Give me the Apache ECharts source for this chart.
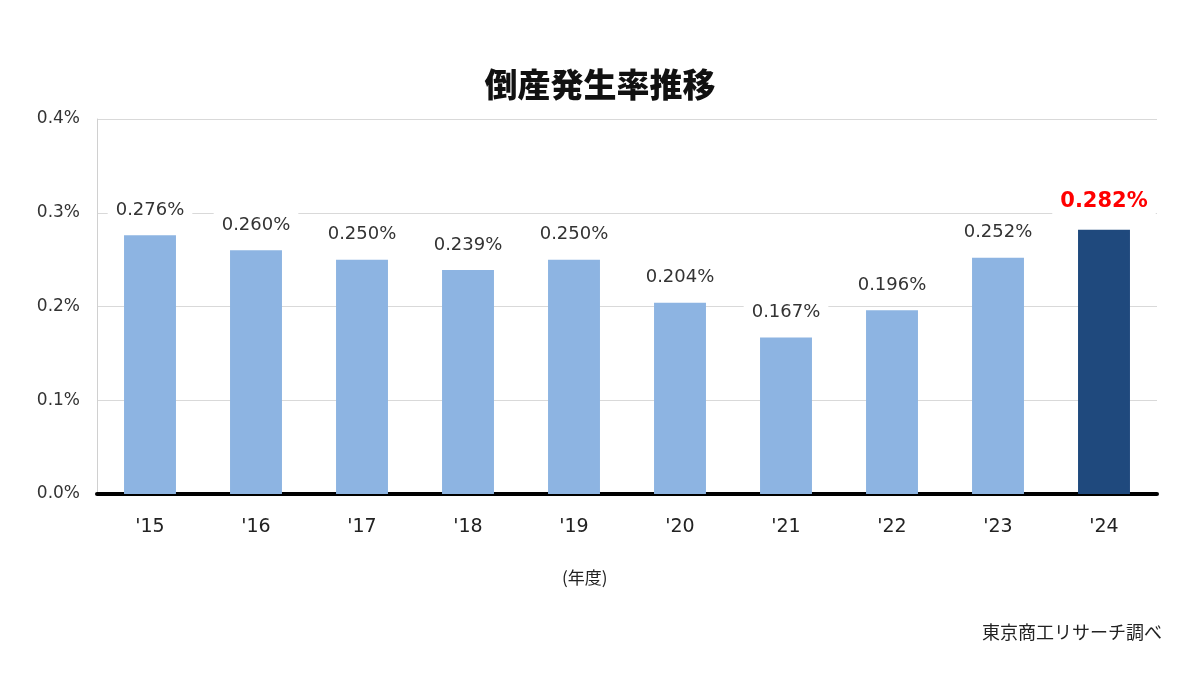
<!DOCTYPE html>
<html>
<head>
<meta charset="utf-8">
<script src="https://cdn.jsdelivr.net/npm/echarts@6/dist/echarts.min.js"></script>
<style>
html,body{margin:0;padding:0;background:#fff;}
#c{width:1200px;height:700px;}
</style>
</head>
<body>
<div id="c"></div>
<script>
const categories = ["'15","'16","'17","'18","'19","'20","'21","'22","'23","'24"];
const rates = [0.276,0.260,0.250,0.239,0.250,0.204,0.167,0.196,0.252,0.282];
const yTicks = [0.0,0.1,0.2,0.3,0.4];
const highlightIndex = 9;

const chart = echarts.init(document.getElementById('c'));
const numFont = "'DejaVu Sans','Noto Sans CJK JP',sans-serif";
const jpFont = "'Noto Sans CJK JP','Noto Sans',sans-serif";
const data = rates.map((v,i)=>{
  if(i===highlightIndex){
    return {value:v,itemStyle:{color:'#1F497D'},
      label:{color:'#FF0000',fontWeight:'bold',fontSize:21,lineHeight:22,distance:13}};
  }
  return {value:v};
});
chart.setOption({
  backgroundColor:'#fff',
  animation:false,
  title:{text:'倒産発生率推移',left:'center',top:62,
    textStyle:{fontFamily:jpFont,fontSize:33,lineHeight:35,fontWeight:900,color:'#111'}},
  grid:{left:97,right:43,top:119,bottom:206},
  xAxis:{type:'category',data:categories,
    axisLine:{lineStyle:{color:'#000',width:4}},
    axisTick:{show:false},
    axisLabel:{fontFamily:numFont,fontSize:19,color:'#222',margin:24}},
  yAxis:{type:'value',min:yTicks[0],max:yTicks[yTicks.length-1],interval:0.1,
    axisLine:{show:true,lineStyle:{color:'#d0d0d0'}},
    splitLine:{lineStyle:{color:'#d9d9d9'}},
    axisLabel:{fontFamily:numFont,fontSize:17,color:'#333',margin:17,formatter:v=>v.toFixed(1)+'%'}},
  series:[{type:'bar',data:data,barWidth:'49%',
    itemStyle:{color:'#8DB4E2'},
    label:{show:true,position:'top',distance:12,fontFamily:numFont,fontSize:18,lineHeight:18,color:'#333',
      backgroundColor:'#fff',padding:[4,8],formatter:p=>p.value.toFixed(3)+'%'}}],
  graphic:[
    {type:'text',left:562,top:569,style:{text:'(年度)',font:'17px '+jpFont,fill:'#222'}},
    {type:'text',right:38,top:623,style:{text:'東京商工リサーチ調べ',font:'18px '+jpFont,fill:'#222'}}
  ]
});
</script>
</body>
</html>
